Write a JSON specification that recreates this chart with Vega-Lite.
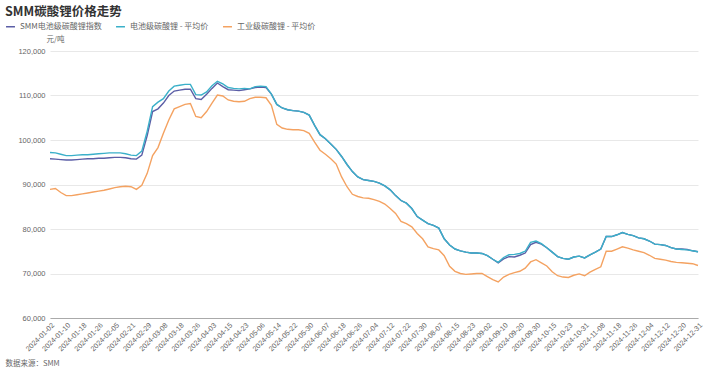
{
  "$schema": "https://vega.github.io/schema/vega-lite/v6.json",
  "width": 648,
  "height": 267,
  "autosize": {"type": "none"},
  "padding": {"left": 50, "top": 51, "right": 22, "bottom": 62},
  "background": "white",
  "config": {
    "font": "Liberation Sans, Noto Sans CJK SC",
    "view": {"stroke": null}
  },
  "title": {
    "text": "SMM碳酸锂价格走势",
    "anchor": "start",
    "frame": "group",
    "dx": -45,
    "offset": 3,
    "fontSize": 12.5,
    "fontWeight": "bold",
    "color": "#333333",
    "font": "Noto Sans CJK SC"
  },
  "data": {
    "values": [
      {"d": "2024-01-02", "a": 95800, "b": 97200, "c": 88900},
      {"d": "2024-01-04", "a": 95700, "b": 97100, "c": 89100},
      {"d": "2024-01-08", "a": 95600, "b": 96800, "c": 88200},
      {"d": "2024-01-10", "a": 95500, "b": 96500, "c": 87500},
      {"d": "2024-01-12", "a": 95500, "b": 96500, "c": 87500},
      {"d": "2024-01-16", "a": 95600, "b": 96600, "c": 87700},
      {"d": "2024-01-18", "a": 95700, "b": 96700, "c": 87900},
      {"d": "2024-01-22", "a": 95800, "b": 96700, "c": 88100},
      {"d": "2024-01-24", "a": 95800, "b": 96800, "c": 88300},
      {"d": "2024-01-26", "a": 95900, "b": 96900, "c": 88500},
      {"d": "2024-01-30", "a": 95900, "b": 97000, "c": 88700},
      {"d": "2024-02-01", "a": 96000, "b": 97100, "c": 89000},
      {"d": "2024-02-05", "a": 96100, "b": 97100, "c": 89300},
      {"d": "2024-02-07", "a": 96100, "b": 97100, "c": 89500},
      {"d": "2024-02-19", "a": 96000, "b": 96900, "c": 89600},
      {"d": "2024-02-21", "a": 95800, "b": 96600, "c": 89500},
      {"d": "2024-02-23", "a": 95700, "b": 96500, "c": 88900},
      {"d": "2024-02-27", "a": 96600, "b": 97500, "c": 89800},
      {"d": "2024-02-29", "a": 101000, "b": 102000, "c": 92500},
      {"d": "2024-03-04", "a": 106400, "b": 107500, "c": 96500},
      {"d": "2024-03-06", "a": 107000, "b": 108500, "c": 98300},
      {"d": "2024-03-08", "a": 108300, "b": 109300, "c": 101500},
      {"d": "2024-03-12", "a": 110000, "b": 111000, "c": 104500},
      {"d": "2024-03-14", "a": 111000, "b": 112100, "c": 107000},
      {"d": "2024-03-18", "a": 111200, "b": 112300, "c": 107500},
      {"d": "2024-03-20", "a": 111400, "b": 112500, "c": 108000},
      {"d": "2024-03-22", "a": 111400, "b": 112500, "c": 108200},
      {"d": "2024-03-26", "a": 109300, "b": 110200, "c": 105300},
      {"d": "2024-03-28", "a": 109100, "b": 110100, "c": 105000},
      {"d": "2024-04-01", "a": 110300, "b": 110800, "c": 106400},
      {"d": "2024-04-03", "a": 111600, "b": 112200, "c": 108300},
      {"d": "2024-04-09", "a": 112800, "b": 113200, "c": 110100},
      {"d": "2024-04-11", "a": 112000, "b": 112600, "c": 109900},
      {"d": "2024-04-15", "a": 111300, "b": 111800, "c": 109000},
      {"d": "2024-04-17", "a": 111200, "b": 111600, "c": 108700},
      {"d": "2024-04-19", "a": 111100, "b": 111500, "c": 108600},
      {"d": "2024-04-23", "a": 111300, "b": 111600, "c": 108700},
      {"d": "2024-04-25", "a": 111500, "b": 111500, "c": 109300},
      {"d": "2024-04-29", "a": 111800, "b": 112000, "c": 109600},
      {"d": "2024-05-06", "a": 111900, "b": 112100, "c": 109600},
      {"d": "2024-05-08", "a": 111800, "b": 112000, "c": 109500},
      {"d": "2024-05-10", "a": 110300, "b": 110300, "c": 107800},
      {"d": "2024-05-14", "a": 108000, "b": 108000, "c": 103500},
      {"d": "2024-05-16", "a": 107200, "b": 107200, "c": 102700},
      {"d": "2024-05-20", "a": 106800, "b": 106800, "c": 102400},
      {"d": "2024-05-22", "a": 106600, "b": 106600, "c": 102300},
      {"d": "2024-05-24", "a": 106500, "b": 106500, "c": 102300},
      {"d": "2024-05-28", "a": 106200, "b": 106200, "c": 102100},
      {"d": "2024-05-30", "a": 105600, "b": 105600, "c": 101500},
      {"d": "2024-06-03", "a": 103300, "b": 103300, "c": 99500},
      {"d": "2024-06-05", "a": 101200, "b": 101200, "c": 97700},
      {"d": "2024-06-07", "a": 100300, "b": 100300, "c": 96800},
      {"d": "2024-06-12", "a": 99100, "b": 99100, "c": 95800},
      {"d": "2024-06-14", "a": 97900, "b": 97900, "c": 94600},
      {"d": "2024-06-18", "a": 96300, "b": 96300, "c": 91700},
      {"d": "2024-06-20", "a": 94500, "b": 94500, "c": 89500},
      {"d": "2024-06-24", "a": 92900, "b": 92900, "c": 87800},
      {"d": "2024-06-26", "a": 91700, "b": 91700, "c": 87300},
      {"d": "2024-06-28", "a": 91100, "b": 91100, "c": 87000},
      {"d": "2024-07-02", "a": 90900, "b": 90900, "c": 86900},
      {"d": "2024-07-04", "a": 90700, "b": 90700, "c": 86600},
      {"d": "2024-07-08", "a": 90300, "b": 90300, "c": 86200},
      {"d": "2024-07-10", "a": 89700, "b": 89700, "c": 85600},
      {"d": "2024-07-12", "a": 88800, "b": 88800, "c": 84600},
      {"d": "2024-07-16", "a": 87500, "b": 87500, "c": 83500},
      {"d": "2024-07-18", "a": 86400, "b": 86400, "c": 81700},
      {"d": "2024-07-22", "a": 85800, "b": 85800, "c": 81200},
      {"d": "2024-07-24", "a": 84600, "b": 84600, "c": 80500},
      {"d": "2024-07-26", "a": 82800, "b": 82800, "c": 79000},
      {"d": "2024-07-30", "a": 82000, "b": 82000, "c": 77800},
      {"d": "2024-08-01", "a": 81200, "b": 81200, "c": 76000},
      {"d": "2024-08-05", "a": 80800, "b": 80800, "c": 75600},
      {"d": "2024-08-07", "a": 80200, "b": 80200, "c": 75300},
      {"d": "2024-08-09", "a": 77800, "b": 77800, "c": 74000},
      {"d": "2024-08-13", "a": 76400, "b": 76400, "c": 71600},
      {"d": "2024-08-15", "a": 75500, "b": 75500, "c": 70500},
      {"d": "2024-08-19", "a": 75100, "b": 75100, "c": 70000},
      {"d": "2024-08-21", "a": 74800, "b": 74800, "c": 69800},
      {"d": "2024-08-23", "a": 74600, "b": 74600, "c": 69900},
      {"d": "2024-08-27", "a": 74600, "b": 74600, "c": 70000},
      {"d": "2024-08-29", "a": 74500, "b": 74500, "c": 70000},
      {"d": "2024-09-02", "a": 74000, "b": 74000, "c": 69300},
      {"d": "2024-09-04", "a": 73200, "b": 73200, "c": 68600},
      {"d": "2024-09-06", "a": 72400, "b": 72500, "c": 68100},
      {"d": "2024-09-10", "a": 73300, "b": 73600, "c": 69200},
      {"d": "2024-09-12", "a": 73800, "b": 74200, "c": 69800},
      {"d": "2024-09-18", "a": 73700, "b": 74300, "c": 70200},
      {"d": "2024-09-20", "a": 74100, "b": 74500, "c": 70500},
      {"d": "2024-09-24", "a": 74600, "b": 75000, "c": 71200},
      {"d": "2024-09-26", "a": 76500, "b": 77000, "c": 72600},
      {"d": "2024-09-30", "a": 77000, "b": 77300, "c": 73100},
      {"d": "2024-10-09", "a": 76600, "b": 76700, "c": 72400},
      {"d": "2024-10-11", "a": 75800, "b": 75800, "c": 71700},
      {"d": "2024-10-15", "a": 74800, "b": 74800, "c": 70400},
      {"d": "2024-10-17", "a": 73800, "b": 73800, "c": 69500},
      {"d": "2024-10-21", "a": 73400, "b": 73400, "c": 69200},
      {"d": "2024-10-23", "a": 73200, "b": 73200, "c": 69100},
      {"d": "2024-10-25", "a": 73700, "b": 73700, "c": 69600},
      {"d": "2024-10-29", "a": 73900, "b": 73900, "c": 69900},
      {"d": "2024-10-31", "a": 73500, "b": 73500, "c": 69500},
      {"d": "2024-11-04", "a": 74200, "b": 74200, "c": 70300},
      {"d": "2024-11-06", "a": 74800, "b": 74800, "c": 70900},
      {"d": "2024-11-08", "a": 75500, "b": 75500, "c": 71500},
      {"d": "2024-11-12", "a": 78300, "b": 78300, "c": 75000},
      {"d": "2024-11-14", "a": 78300, "b": 78300, "c": 75000},
      {"d": "2024-11-18", "a": 78700, "b": 78700, "c": 75500},
      {"d": "2024-11-20", "a": 79200, "b": 79200, "c": 76000},
      {"d": "2024-11-22", "a": 78800, "b": 78800, "c": 75700},
      {"d": "2024-11-26", "a": 78500, "b": 78500, "c": 75300},
      {"d": "2024-11-28", "a": 78000, "b": 78000, "c": 75000},
      {"d": "2024-12-02", "a": 77800, "b": 77800, "c": 74700},
      {"d": "2024-12-04", "a": 77300, "b": 77300, "c": 74100},
      {"d": "2024-12-06", "a": 76600, "b": 76600, "c": 73400},
      {"d": "2024-12-10", "a": 76500, "b": 76500, "c": 73200},
      {"d": "2024-12-12", "a": 76300, "b": 76300, "c": 73000},
      {"d": "2024-12-16", "a": 75800, "b": 75800, "c": 72700},
      {"d": "2024-12-18", "a": 75500, "b": 75500, "c": 72500},
      {"d": "2024-12-20", "a": 75500, "b": 75400, "c": 72400},
      {"d": "2024-12-24", "a": 75400, "b": 75300, "c": 72300},
      {"d": "2024-12-27", "a": 75100, "b": 75100, "c": 72200},
      {"d": "2024-12-31", "a": 74900, "b": 74900, "c": 71800}
    ]
  },
  "transform": [{"fold": ["a", "b", "c"], "as": ["s", "v"]}],
  "mark": {"type": "line", "strokeWidth": 1.4, "interpolate": "linear"},
  "encoding": {
    "x": {
      "field": "d",
      "type": "ordinal",
      "sort": null,
      "scale": {"type": "point", "padding": 0},
      "axis": {
        "values": ["2024-01-02","2024-01-10","2024-01-18","2024-01-26","2024-02-05","2024-02-21","2024-02-29","2024-03-08","2024-03-18","2024-03-26","2024-04-03","2024-04-15","2024-04-23","2024-05-06","2024-05-14","2024-05-22","2024-05-30","2024-06-07","2024-06-18","2024-06-26","2024-07-04","2024-07-12","2024-07-22","2024-07-30","2024-08-07","2024-08-15","2024-08-23","2024-09-02","2024-09-10","2024-09-20","2024-09-30","2024-10-15","2024-10-23","2024-10-31","2024-11-08","2024-11-18","2024-11-26","2024-12-04","2024-12-12","2024-12-20","2024-12-31"],
        "labelAngle": -45,
        "labelFont": "Liberation Sans",
        "labelFontSize": 7.2,
        "labelColor": "#666666",
        "labelPadding": 3,
        "ticks": false,
        "grid": false,
        "domainColor": "#aaaaaa",
        "domainWidth": 1,
        "labelOverlap": false,
        "title": "数据来源：SMM",
        "titleFont": "Noto Sans CJK SC",
        "titleAnchor": null,
        "titleAlign": "left",
        "titleBaseline": "middle",
        "titleX": -45,
        "titleY": 45,
        "titleFontSize": 7.5,
        "titleFontWeight": "normal",
        "titleColor": "#666666"
      }
    },
    "y": {
      "field": "v",
      "type": "quantitative",
      "scale": {"domain": [60000, 120000], "nice": false, "zero": false},
      "axis": {
        "values": [60000, 70000, 80000, 90000, 100000, 110000, 120000],
        "format": ",.0f",
        "domain": false,
        "ticks": false,
        "labelFont": "Liberation Sans",
        "labelFontSize": 7.5,
        "labelColor": "#666666",
        "labelPadding": 5,
        "gridColor": "#e8e8e8",
        "gridWidth": 1,
        "title": "元/吨",
        "titleFont": "Noto Sans CJK SC",
        "titleAngle": 0,
        "titleAnchor": null,
        "titleAlign": "center",
        "titleBaseline": "middle",
        "titleX": 5,
        "titleY": -12,
        "titleFontSize": 7.5,
        "titleFontWeight": "normal",
        "titleColor": "#666666"
      }
    },
    "color": {
      "field": "s",
      "type": "nominal",
      "scale": {"domain": ["a", "b", "c"], "range": ["#5b5ea6", "#3bb0c9", "#f4a261"]},
      "legend": {
        "title": null,
        "orient": "none",
        "legendX": -45,
        "legendY": -30,
        "direction": "horizontal",
        "symbolType": "stroke",
        "symbolSize": 80,
        "symbolStrokeWidth": 1.5,
        "labelFont": "Noto Sans CJK SC",
        "labelFontSize": 8,
        "labelColor": "#666666",
        "labelOffset": 4,
        "columnPadding": 11,
        "labelExpr": "datum.label == 'a' ? 'SMM电池级碳酸锂指数' : datum.label == 'b' ? '电池级碳酸锂 - 平均价' : '工业级碳酸锂 - 平均价'"
      }
    }
  }
}
